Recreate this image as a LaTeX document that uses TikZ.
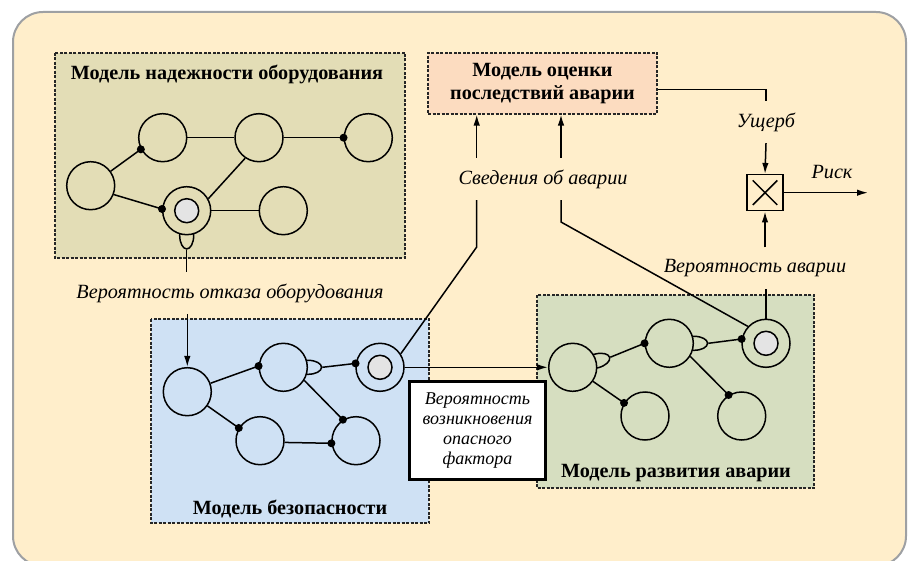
\documentclass[tikz,border=0pt]{standalone}
\usepackage{fontspec}
\setmainfont{Liberation Serif}
\usetikzlibrary{arrows.meta,shapes.geometric,shapes.misc,backgrounds}

\definecolor{cream}{HTML}{FFEECB}
\definecolor{framegray}{HTML}{9EA0A3}
\definecolor{reliab}{HTML}{E3DDB6}
\definecolor{safety}{HTML}{CFE1F4}
\definecolor{develop}{HTML}{D6DEC0}
\definecolor{conseqc}{HTML}{FCDCC0}
\definecolor{coregray}{HTML}{E4E4E4}

\tikzset{
  model/.style={draw=black!85, dash pattern=on 3pt off 1.5pt, line width=1.1pt},
  vertex/.style={circle, draw, fill=#1, minimum size=48pt, inner sep=0pt},
  core/.style={circle, draw, fill=coregray, minimum size=24pt, inner sep=0pt},
  dot/.style={circle, fill, minimum size=8pt, inner sep=0pt},
  bulb/.style={ellipse, draw=black, line width=1.5pt, fill=#1, minimum width=27pt, minimum height=14pt, inner sep=0pt},
  title/.style={font=\fontsize{20.2}{23.3}\selectfont\bfseries, align=center},
  lbl/.style={font=\fontsize{20.2}{22}\selectfont\itshape, inner ysep=11pt},
}

\begin{document}
\begin{tikzpicture}[x=1pt, y=-1pt, line width=1.5pt, >={Latex[length=11pt,width=6.5pt]}]
	\useasboundingbox (0,0) rectangle (909,561);
	
	% frame and model areas
	\begin{scope}[on background layer]
		\draw[framegray, line width=2pt, fill=cream, rounded corners=30pt] (13,12) rectangle (906,566);
		\draw[model, fill=reliab] (55,53) rectangle (405,258);
		\draw[model, fill=safety] (151,319) rectangle (429,523);
		\draw[model, fill=develop] (537,295) rectangle (814,488);
	\end{scope}
	
	\node[title] (reltitle) at (227,74) {Модель надежности оборудования};
	\node[title] (saftitle) at (290,509) {Модель безопасности};
	\node[title] (devtitle) at (676,473) {Модель развития аварии};
	\node[title, model, fill=conseqc, minimum width=229pt, minimum height=61pt] (conseq) at (542.5,83.5) {Модель оценки\\последствий аварии};
	
	% reliability model
	\node[vertex=reliab] (c1) at (162.7,137.7) {};
	\node[vertex=reliab] (c2) at (259,137.7) {};
	\node[vertex=reliab] (c3) at (368.3,137.7) {};
	\node[vertex=reliab] (c4) at (90.7,185.7) {};
	\node[vertex=reliab] (c5) at (186.7,210.7) {};
	\node[vertex=reliab] (c6) at (283.3,210.7) {};
	\node[core] (c5i) at (c5) {};
	
	\draw (c4) -- (c1.208) node[dot] {};
	\draw (c1) -- (c2);
	\draw (c2) -- (c3.180) node[dot] {};
	\draw (c4.-21) -- (c5.176) node[dot] {};
	\draw (c2.236) -- (c5.29);
	\draw (c5) -- (c6);
	
	% safety model
	\node[vertex=safety] (b1) at (187.3,391.7) {};
	\node[vertex=safety] (b2) at (283.3,367.3) {};
	\node[vertex=safety] (b3) at (380,367.3) {};
	\node[vertex=safety] (b4) at (260,440.7) {};
	\node[vertex=safety] (b5) at (356,440.7) {};
	\node[core] (b3i) at (b3) {};
	
	% accident development model
	\node[vertex=develop] (a1) at (572.7,367.3) {};
	\node[vertex=develop] (a2) at (669.3,343.3) {};
	\node[vertex=develop] (a3) at (766,343.3) {};
	\node[vertex=develop] (a4) at (645,416) {};
	\node[vertex=develop] (a5) at (741.7,416) {};
	\node[core] (a3i) at (a3) {};
	
	\begin{scope}[on background layer]
		\node[bulb=reliab, rotate=-90] (c5b) at (c5.-90) {};
		\node[bulb=safety] (b2b) at (b2.0) {};
		\node[bulb=develop, rotate=15] (a1b) at (a1.15) {};
		\node[bulb=develop] (a2b) at (a2.0) {};
	\end{scope}
	
	\draw (b1.20) -- (b2.177) node[dot] {};
	\draw (b2b.east) -- (b3.171) node[dot] {};
	\draw (b1) -- (b4.149) node[dot] {};
	\draw (b2.-32) -- (b5.122) node[dot] {};
	\draw (b4.-4) -- (b5.186) node[dot] {};
	
	\draw (a1b.east) -- (a2.180) node[dot] {};
	\draw (a2b.east) -- (a3.170) node[dot] {};
	\draw (a1) -- (a4.148) node[dot] {};
	\draw (a2.-32) -- (a5.122) node[dot] {};
	
	% links between models
	\node[lbl] (fail) at (230,293) {Вероятность отказа оборудования};
	\draw (c5b.east) -- (c5b.east |- fail.north);
	\draw[->] (fail.south -| b1) -- (b1);
	
	\node[draw, line width=2.6pt, fill=white, minimum width=136pt, minimum height=98pt,
		font=\fontsize{18}{19.7}\selectfont\itshape, align=center] (hazard) at (477.5,430.5)
		{Вероятность\\возникновения\\опасного\\фактора};
	\draw[->] (b3) -- (a1);
	
	\node[lbl] (info) at (543,179) {Сведения об аварии};
	\coordinate (k1) at (476.7,247);
	\coordinate (k2) at (561,222);
	\draw[->] (info.north -| k1) -- (conseq.south -| k1);
	\draw[->] (info.north -| k2) -- (conseq.south -| k2);
	\draw (b3.33) -- (k1) -- (info.south -| k1);
	\draw (a3.137) -- (k2) -- (info.south -| k2);
	
	% risk
	\node[draw, minimum size=36pt, inner sep=0pt] (mult) at (765,192.7) {};
	\node[cross out, draw, minimum size=23pt, inner sep=0pt] (multx) at (mult) {};
	\node[lbl] (damage) at (766,122) {Ущерб};
	\node[lbl] (accprob) at (755,268) {Вероятность аварии};
	\node[lbl] (risk) at (832,172) {Риск};
	\coordinate (riskend) at (868,191);
	
	\draw ([yshift=-6pt]conseq.east) -| (damage.north);
	\draw[->] (damage.south) -- (mult.north);
	\draw (a3) -- (accprob.south -| a3);
	\draw[->] (accprob.north -| mult) -- (mult.south);
	\draw[->] (mult.east) -- (riskend |- mult.east);
\end{tikzpicture}
\end{document}
